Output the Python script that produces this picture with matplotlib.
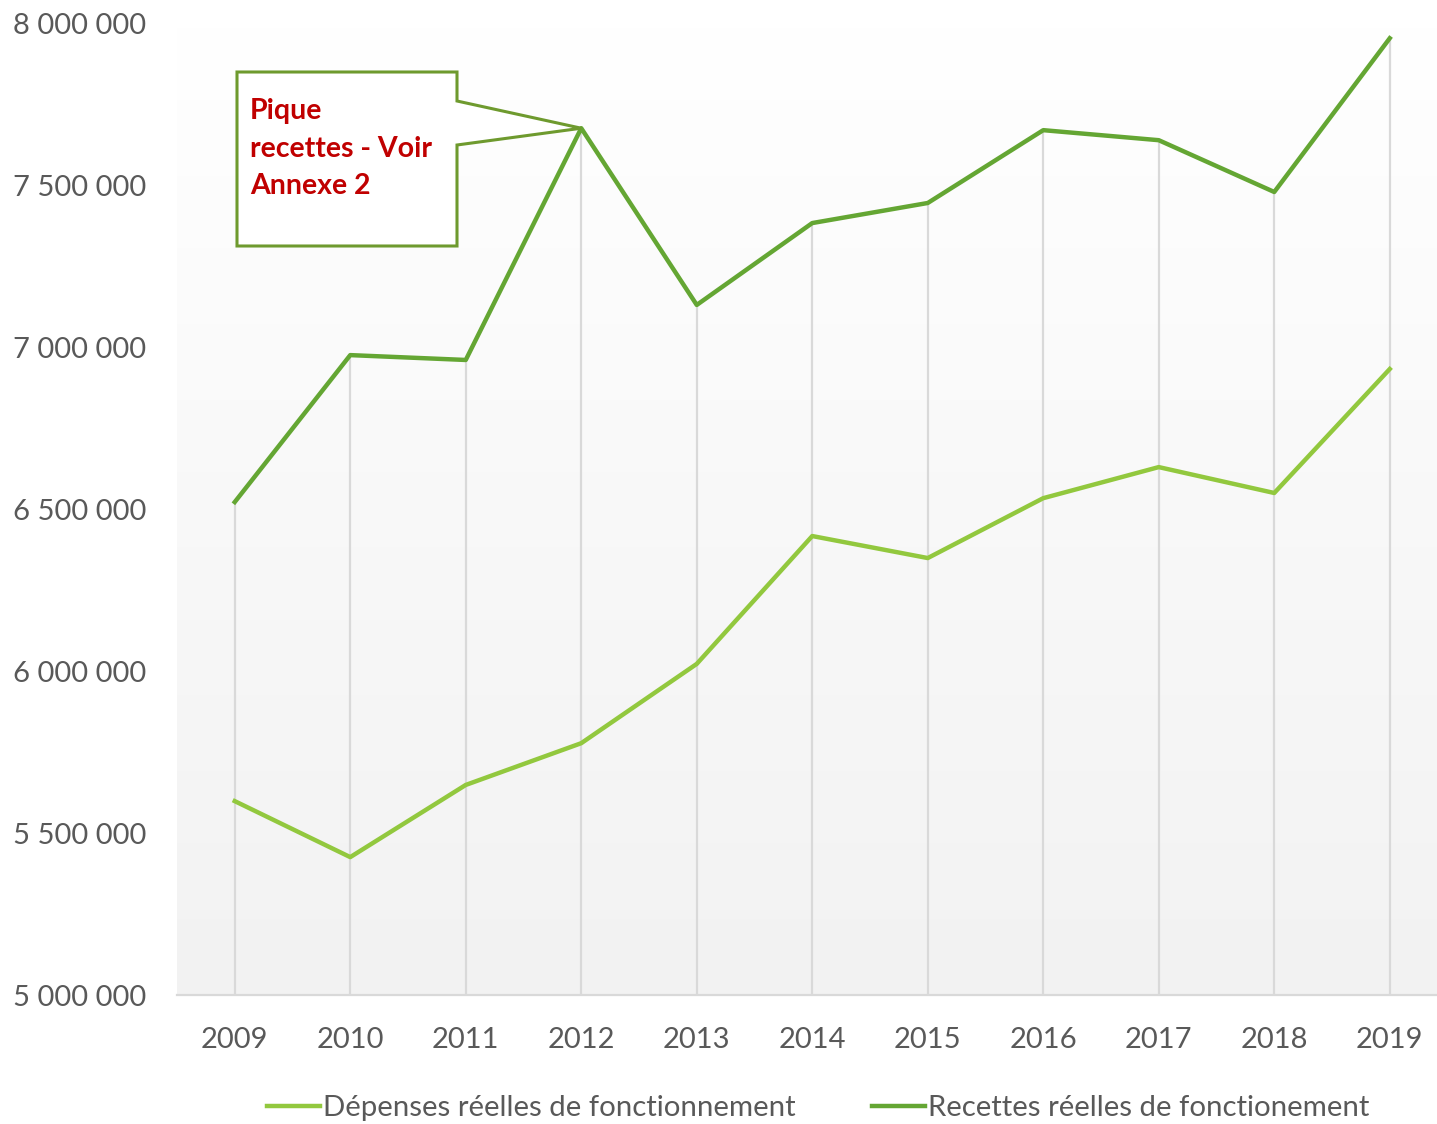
import numpy as np
import matplotlib.pyplot as plt
from matplotlib.patches import Polygon
from matplotlib.lines import Line2D

plt.rcParams['font.family'] = ['Lato', 'DejaVu Sans']

years = ["2009", "2010", "2011", "2012", "2013", "2014", "2015", "2016", "2017", "2018", "2019"]
depenses = [5599000, 5426000, 5649000, 5778000, 6023000, 6418000, 6350000, 6535000, 6631000, 6551000, 6934000]
recettes = [6523000, 6977000, 6962000, 7678000, 7132000, 7385000, 7447000, 7672000, 7641000, 7481000, 7956000]
yticks = [5000000, 5500000, 6000000, 6500000, 7000000, 7500000, 8000000]

c_dep = "#92c83e"
c_rec = "#64a633"
c_txt = "#595959"

fig = plt.figure(figsize=(14.37, 11.24), dpi=100)
# axes spans pixel x 177..1447, y 24..995
ax = fig.add_axes([177 / 1437, 1 - 995 / 1124, 1270.5 / 1437, 971 / 1124])
ax.set_xlim(-0.5, 10.5)
ax.set_ylim(5000000, 8000000)

# gradient background
grad = np.linspace(0, 1, 256).reshape(-1, 1)
ax.imshow(grad, extent=[0, 1, 0, 1], transform=ax.transAxes, aspect="auto",
          cmap=plt.matplotlib.colors.LinearSegmentedColormap.from_list("g", ["#f2f2f2", "#ffffff"]),
          origin="lower", zorder=0)

x = np.arange(len(years))
# drop lines
tops = np.maximum(depenses, recettes)
ax.vlines(x, 5000000, tops, color="#d9d9d9", lw=1.6, zorder=1)

ax.plot(x, depenses, color=c_dep, lw=3.2, zorder=3, solid_joinstyle="round")
ax.plot(x, recettes, color=c_rec, lw=3.2, zorder=3, solid_joinstyle="round")

for s in ["top", "right", "left"]:
    ax.spines[s].set_visible(False)
ax.spines["bottom"].set_color("#d9d9d9")
ax.spines["bottom"].set_linewidth(1.6)

ax.set_xticks(x)
ax.set_xticklabels(years)
ax.set_yticks(yticks)
ax.set_yticklabels([f"{v:,}".replace(",", " ") for v in yticks])
ax.tick_params(axis="both", length=0, labelsize=21, colors=c_txt)
ax.tick_params(axis="x", pad=23)
ax.tick_params(axis="y", pad=22)

# callout box with pointer to the 2012 peak
tip = ax.transAxes.inverted().transform(ax.transData.transform((3, recettes[3])))
def af(px, py):
    return ((px - 177) / 1270.5, (995 - py) / 971)
verts = [af(237, 72), af(457, 72), af(457, 101), tuple(tip), af(457, 145),
         af(457, 246), af(237, 246)]
ax.add_patch(Polygon(verts, closed=True, transform=ax.transAxes, facecolor="white",
                     edgecolor="#6e9a2e", lw=2.2, zorder=5, clip_on=False))
ax.text(*af(250, 98), "Pique\nrecettes - Voir\nAnnexe 2", transform=ax.transAxes,
        ha="left", va="top", fontsize=20.5, fontweight="bold", color="#c00000",
        linespacing=1.55, zorder=6)

handles = [Line2D([], [], color=c_dep, lw=3.2), Line2D([], [], color=c_rec, lw=3.2)]
fig.legend(handles, ["Dépenses réelles de fonctionnement", "Recettes réelles de fonctionement"],
           loc="center", bbox_to_anchor=(818 / 1437, 1 - 1108 / 1124), ncol=2, frameon=False,
           fontsize=21.2, labelcolor=c_txt, handlelength=1.8, handletextpad=0.1,
           columnspacing=2.6)

fig.savefig("out.png", dpi=100)
